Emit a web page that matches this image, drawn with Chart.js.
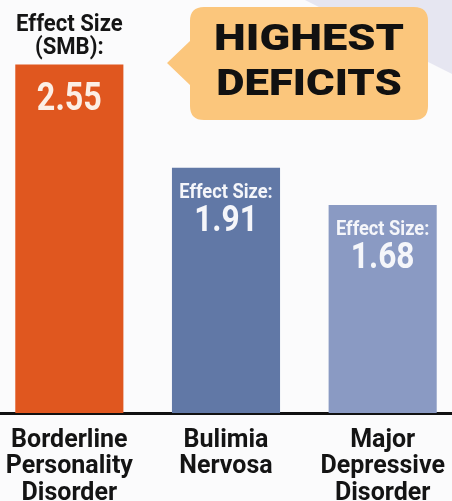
<!DOCTYPE html>
<html>
<head>
<meta charset="utf-8">
<script src="https://cdn.jsdelivr.net/npm/chart.js@4.4.1/dist/chart.umd.min.js"></script>
<style>
    html, body { margin: 0; padding: 0; background: #fbfbfc; overflow: hidden; }
    #wrap { position: absolute; left: -9px; top: 0; width: 470px; height: 501px; }
</style>
</head>
<body>
<div id="wrap"><canvas id="effectChart"></canvas></div>
<script>
// Disorders and their effect sizes
const categories = [
    ['Borderline', 'Personality', 'Disorder'],
    ['Bulimia', 'Nervosa'],
    ['Major', 'Depressive', 'Disorder']
];
const effectSizes = [2.55, 1.91, 1.68];
const barColors = ['#e0571f', '#6178a6', '#8a9ac3'];
const captions = [['Effect Size', '(SMB):'], ['Effect Size:'], ['Effect Size:']];
const calloutLines = ['HIGHEST', 'DEFICITS'];

const SHIFT = 9; // canvas sits 9px left of the page edge

// draw heavy text squeezed or stretched horizontally
function drawText(ctx, text, x, y, size, sx, color, weight) {
    ctx.save();
    ctx.translate(x, y);
    ctx.scale(sx, 1);
    ctx.font = (weight || 'bold') + ' ' + size + 'px Roboto';
    ctx.fillStyle = color;
    ctx.textAlign = 'center';
    ctx.textBaseline = 'alphabetic';
    ctx.fillText(text, 0, 0);
    ctx.restore();
}

// page background, lavender corner and the callout bubble
const backdrop = {
    id: 'backdrop',
    beforeDraw(chart) {
        const ctx = chart.ctx;
        ctx.save();
        ctx.fillStyle = '#fbfbfc';
        ctx.fillRect(0, 0, chart.width, chart.height);
        ctx.translate(SHIFT, 0);

        ctx.fillStyle = '#e6e6f1';
        ctx.beginPath();
        ctx.moveTo(305, 0);
        ctx.lineTo(460, 0);
        ctx.lineTo(460, 78);
        ctx.closePath();
        ctx.fill();

        // bubble with tail pointing left
        const x = 190, y = 7, w = 238, h = 113, r = 14;
        ctx.fillStyle = '#fbc67c';
        ctx.beginPath();
        ctx.moveTo(x + r, y);
        ctx.lineTo(x + w - r, y);
        ctx.quadraticCurveTo(x + w, y, x + w, y + r);
        ctx.lineTo(x + w, y + h - r);
        ctx.quadraticCurveTo(x + w, y + h, x + w - r, y + h);
        ctx.lineTo(x + r, y + h);
        ctx.quadraticCurveTo(x, y + h, x, y + h - r);
        ctx.lineTo(x, 85);
        ctx.lineTo(167, 63);
        ctx.lineTo(x, 41);
        ctx.lineTo(x, y + r);
        ctx.quadraticCurveTo(x, y, x + r, y);
        ctx.closePath();
        ctx.fill();

        drawText(ctx, calloutLines[0], 309, 50, 37, 1.22, '#111111', '900');
        drawText(ctx, calloutLines[1], 309, 95, 37, 1.18, '#111111', '900');
        ctx.restore();
    }
};

// effect size captions on and above the bars
const barLabels = {
    id: 'barLabels',
    afterDatasetsDraw(chart) {
        const ctx = chart.ctx;
        const meta = chart.getDatasetMeta(0);
        meta.data.forEach((bar, i) => {
            const value = effectSizes[i].toFixed(2);
            if (i === 0) {
                drawText(ctx, captions[i][0], bar.x, bar.y - 34, 24, 0.92, '#151515');
                drawText(ctx, captions[i][1], bar.x, bar.y - 11, 24, 0.92, '#151515');
                drawText(ctx, value, bar.x, bar.y + 45, 38, 0.85, '#fcefe6');
            } else {
                drawText(ctx, captions[i][0], bar.x, bar.y + 30, 21, 0.87, '#f5f6fa');
                drawText(ctx, value, bar.x, bar.y + 63, 36, 0.88, '#f5f6fa');
            }
        });
    }
};

const ctx = document.getElementById('effectChart').getContext('2d');
new Chart(ctx, {
    type: 'bar',
    data: {
        labels: categories,
        datasets: [{
            data: effectSizes,
            backgroundColor: barColors,
            borderWidth: 0,
            barPercentage: 0.69,
            categoryPercentage: 1
        }]
    },
    options: {
        responsive: true,
        maintainAspectRatio: false,
        animation: false,
        layout: { padding: 0 },
        plugins: {
            legend: { display: false },
            tooltip: { enabled: false }
        },
        scales: {
            x: {
                grid: { display: false, drawTicks: false },
                border: { display: true, color: '#111111', width: 3 },
                ticks: {
                    color: '#141414',
                    padding: 14,
                    font: { family: 'Roboto', weight: 'bold', size: 25, lineHeight: 1.07 }
                },
                // keep the baseline where the labels start
                afterFit(scale) {
                    scale.height = 88;
                }
            },
            y: {
                display: false,
                min: 0.39,
                max: 2.95
            }
        }
    },
    plugins: [backdrop, barLabels]
});
</script>
</body>
</html>
